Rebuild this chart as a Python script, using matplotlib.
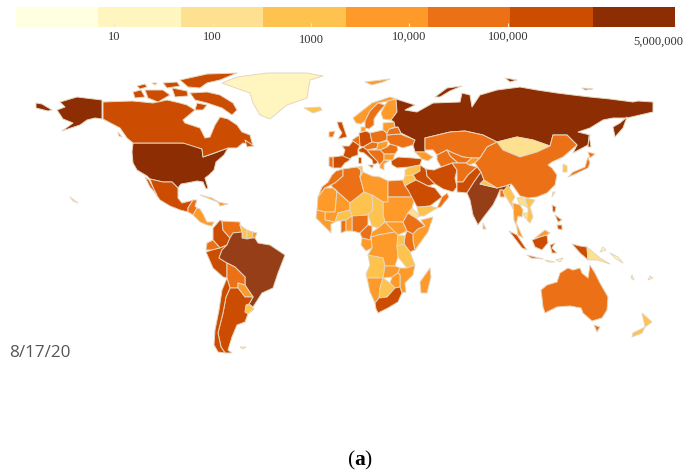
import numpy as np
import matplotlib
matplotlib.use("Agg")
import matplotlib.pyplot as plt
from matplotlib.colors import ListedColormap, BoundaryNorm
from matplotlib.transforms import ScaledTranslation

# Legend colours and scale
legend_colors = ["#ffffe2", "#fff5be", "#fee190", "#fec24f", "#fd9a29", "#ec7116", "#cc4c02", "#8c2d04"]
legend_ticks = [10, 100, 1000, 10000, 100000, 5000000]
legend_labels = ["10", "100", "1000", "10,000", "100,000", "5,000,000"]
bounds = 10 ** np.linspace(0, np.log10(5000000), 9)

cases = {
    "USA": 5400000, "Russia": 925000, "Brazil": 3340000, "India": 2650000,
    "Canada": 123000, "Mexico": 520000, "Peru": 530000, "Colombia": 470000,
    "Chile": 385000, "Argentina": 300000, "South Africa": 590000, "Iran": 345000,
    "Pakistan": 290000, "Saudi Arabia": 300000, "Turkey": 250000, "UK": 320000,
    "France": 250000, "Spain": 360000, "Italy": 254000, "Germany": 225000,
    "Iraq": 180000, "Indonesia": 140000, "Philippines": 165000, "Venezuela": 33000,
    "Ecuador": 100000, "Bolivia": 100000, "Paraguay": 11000, "Uruguay": 1500,
    "Guyana": 600, "Suriname": 1200, "French Guiana": 8000, "Guatemala": 65000,
    "Nicaragua": 12000, "Caribbean": 3000, "Greenland": 14, "Iceland": 1900,
    "Svalbard": 3000, "Morocco": 40000, "Algeria": 38000, "Tunisia": 1800,
    "Libya": 6000, "Egypt": 96000, "Sudan": 12000, "Chad": 950, "Niger": 1100,
    "Mali": 2600, "Mauritania": 6500, "West Coast": 9000, "Burkina": 1300,
    "Ghana": 42000, "Benin": 5000, "Nigeria": 49000, "Cameroon": 18000, "CAR": 4700,
    "South Sudan": 2500, "Ethiopia": 30000, "Eritrea": 300, "Somalia": 3200,
    "Kenya": 30000, "DRC": 9700, "Congo": 8000, "Tanzania": 500, "Uganda": 1400,
    "Angola": 1900, "Zambia": 10000, "Mozambique": 3000, "Zimbabwe": 5000,
    "Namibia": 4000, "Botswana": 1200, "Madagascar": 14000, "Portugal": 54000,
    "Ireland": 27000, "Norway": 10000, "Sweden": 84000, "Finland": 7700,
    "Denmark": 15000, "Benelux": 75000, "Baltics": 2500, "Belarus": 70000,
    "Poland": 58000, "Ukraine": 95000, "Romania": 70000, "Austria": 25000,
    "Hungary": 12000, "West Balkans": 32000, "Bulgaria": 14000, "Greece": 7000,
    "Kazakhstan": 100000, "Mongolia": 293, "China": 89000, "Turkmenistan": 30000,
    "Uzbekistan": 35000, "Kyrgyzstan": 14000, "Afghanistan": 37000, "Nepal": 2000,
    "Bangladesh": 95000, "Myanmar": 370, "Thailand": 3300, "Vietnam": 990, "Laos": 150,
    "Yemen": 1900, "Oman": 83000, "Syria": 1800, "Jordan": 1300, "Caucasus": 15000,
    "Japan": 56000, "South Korea": 1500, "Malaysia": 9200, "Cambodia": 270, "PNG": 300,
    "Australia": 23000, "New Zealand": 1300, "Sri Lanka": 2900, "Taiwan": 480,
    "Islands": 20,
}
faded = ["Brazil", "India"]

# Country outlines in map units
outlines = {
    "USA": [
        [(133,143),(183,143),(190,144),(202,149),(203,157),(212,154),(220,151),(228,148),(224,155),(216,162),(214,170),(209,175),(205,178),(208,188),(206,189),(203,182),(197,181),(187,183),(181,184),(178,188),(172,182),(163,182),(150,179),(147,176),(137,170),(133,163),(132,152)],
        [(60,102),(77,97),(102,100),(102,119),(95,118),(87,120),(80,125),(62,131),(73,123),(63,119),(57,110),(65,107)],
        [(36,103),(42,104),(52,110),(48,111),(36,108)],
    ],
    "Canada": [
        [(103,102),(132,101),(143,102),(153,103),(167,100),(180,103),(187,105),(195,110),(183,120),(185,123),(200,128),(205,138),(210,137),(215,125),(220,117),(228,119),(237,125),(242,132),(250,135),(253,146),(243,143),(237,148),(228,148),(217,152),(203,157),(202,149),(183,143),(133,143),(127,138),(120,128),(103,119)],
        [(197,103),(207,105),(203,110),(195,110)],
        [(190,93),(207,92),(220,95),(233,103),(237,110),(232,115),(222,108),(207,103),(195,100)],
        [(180,80),(207,74),(237,73),(220,80),(207,83),(200,88),(188,87)],
        [(145,90),(163,90),(170,95),(158,102),(148,98)],
        [(133,92),(141,90),(145,97),(135,98)],
        [(172,88),(187,91),(188,96),(175,97)],
        [(163,83),(177,82),(180,86),(167,88)],
        [(137,86),(145,84),(147,87),(140,89)],
        [(152,83),(157,83),(155,85)],
        [(245,140),(254,146),(247,147)],
        [(118,132),(122,137),(119,136)],
    ],
    "Greenland": [[(222,83),(237,77),(267,73),(307,73),(323,76),(310,80),(307,98),(287,105),(270,119),(260,115),(253,103),(250,93),(233,87)]],
    "Iceland": [[(304,108),(320,107),(322,110),(313,113)]],
    "Mexico": [
        [(150,179),(163,182),(172,182),(178,188),(178,198),(182,203),(190,201),(193,200),(188,208),(188,212),(180,210),(170,206),(160,200),(155,193)],
        [(145,177),(149,180),(157,195),(150,187)],
    ],
    "Guatemala": [[(188,208),(193,200),(197,200),(195,206),(197,208),(193,215),(188,212)]],
    "Nicaragua": [[(197,208),(200,209),(203,214),(207,222),(214,222),(212,226),(207,225),(200,222),(193,215)]],
    "Caribbean": [
        [(200,195),(212,198),(220,203),(210,199)],
        [(218,202),(228,204),(220,206)],
    ],
    "Colombia": [[(220,220),(222,221),(223,230),(230,238),(227,245),(220,248),(213,240),(213,228)]],
    "Venezuela": [[(222,221),(240,222),(240,225),(242,232),(233,233),(230,238),(223,230)]],
    "Guyana": [[(240,225),(247,230),(247,239),(242,238),(242,232)]],
    "Suriname": [[(247,230),(253,232),(252,238),(247,239)]],
    "French Guiana": [[(253,232),(257,233),(255,238),(252,238)]],
    "Ecuador": [[(207,243),(213,240),(220,248),(212,250),(206,250)]],
    "Peru": [[(206,252),(212,250),(220,248),(227,245),(222,250),(219,258),(227,263),(227,278),(223,277),(213,268)]],
    "Brazil": [[(227,245),(230,238),(233,233),(242,232),(242,238),(247,239),(252,238),(255,238),(258,243),(270,245),(285,255),(278,273),(273,288),(262,293),(253,307),(249,304),(253,297),(245,285),(245,277),(235,267),(227,263),(219,258),(222,250)]],
    "Bolivia": [[(227,263),(235,267),(245,277),(245,285),(238,283),(238,288),(230,288),(227,278)]],
    "Paraguay": [[(238,283),(245,285),(253,297),(245,297),(238,288)]],
    "Uruguay": [[(246,305),(249,304),(254,309),(248,314),(245,312)]],
    "Argentina": [[(230,288),(238,288),(245,297),(253,297),(249,304),(246,305),(245,312),(248,314),(245,322),(237,325),(232,337),(228,350),(232,353),(225,353),(221,347),(218,333),(223,313),(226,297)]],
    "Chile": [[(227,278),(230,288),(226,297),(223,313),(218,333),(221,347),(225,353),(218,352),(214,345),(215,330),(219,310),(222,290)]],
    "Morocco": [[(336,171),(343,169),(343,176),(335,183),(331,185),(325,188),(318,197),(322,187),(328,182),(332,175)]],
    "Algeria": [[(343,169),(357,167),(361,170),(360,177),(364,192),(350,203),(333,188),(331,185),(335,183),(343,176)]],
    "Mauritania": [[(318,197),(325,188),(333,188),(337,191),(335,212),(325,212),(317,210)]],
    "Mali": [[(333,188),(350,203),(350,210),(338,213),(335,222),(325,220),(325,212),(335,212),(337,191)]],
    "Niger": [[(350,203),(364,192),(372,195),(373,210),(368,215),(352,216),(350,210)]],
    "Libya": [[(360,177),(363,172),(372,176),(380,177),(388,181),(388,202),(383,202),(372,195),(364,192)]],
    "Tunisia": [[(357,167),(362,166),(363,172),(360,177),(361,170)]],
    "Egypt": [[(388,181),(403,180),(408,190),(415,197),(388,197)]],
    "Sudan": [[(388,197),(415,197),(412,208),(408,213),(403,222),(385,222),(383,215),(383,202),(388,202)]],
    "Chad": [[(372,195),(383,202),(383,215),(385,222),(378,228),(372,226),(368,215),(373,210)]],
    "Nigeria": [[(352,216),(368,215),(368,225),(360,233),(352,231)]],
    "Burkina": [[(338,213),(350,210),(352,216),(346,220),(337,221),(335,222)]],
    "Ghana": [[(341,221),(346,220),(346,231),(341,233)]],
    "Benin": [[(346,220),(352,216),(352,231),(346,231)]],
    "West Coast": [[(317,210),(325,212),(325,220),(335,222),(331,224),(331,233),(323,225),(316,218)]],
    "Cameroon": [[(368,225),(372,226),(372,232),(370,240),(362,238),(360,233)]],
    "CAR": [[(372,232),(378,228),(385,222),(395,232),(378,235),(371,237)]],
    "South Sudan": [[(385,222),(403,222),(407,231),(398,235),(395,232)]],
    "Ethiopia": [[(403,222),(408,213),(416,218),(425,226),(418,229),(413,234),(407,231)]],
    "Eritrea": [[(412,208),(420,216),(416,218),(408,213)]],
    "Somalia": [[(418,229),(425,226),(421,220),(433,217),(428,232),(415,250),(413,241),(413,234)]],
    "Kenya": [[(407,231),(413,234),(413,241),(415,250),(410,252),(404,244),(405,236)]],
    "DRC": [[(371,237),(378,235),(395,232),(398,235),(397,246),(398,257),(395,266),(385,266),(383,258),(368,255),(372,248)]],
    "Congo": [[(362,238),(370,240),(371,237),(372,248),(366,251),(361,245)]],
    "Uganda": [[(398,235),(405,236),(404,244),(397,246)]],
    "Tanzania": [[(397,246),(404,244),(410,252),(415,265),(407,268),(398,257)]],
    "Angola": [[(368,255),(383,258),(385,266),(383,278),(367,278),(366,274),(370,265)]],
    "Zambia": [[(385,266),(395,266),(400,268),(398,273),(392,277),(383,278)]],
    "Mozambique": [[(407,268),(415,265),(413,275),(405,283),(406,292),(402,293),(400,287),(400,275),(398,273),(400,268)]],
    "Zimbabwe": [[(392,277),(398,273),(400,275),(400,287),(395,288),(390,283)]],
    "Namibia": [[(367,278),(383,278),(380,288),(379,298),(375,303),(370,292)]],
    "Botswana": [[(383,278),(390,283),(395,288),(387,297),(379,298),(380,288)]],
    "South Africa": [[(375,303),(379,298),(387,297),(395,288),(400,287),(402,293),(398,302),(388,308),(378,313),(376,309)]],
    "Madagascar": [[(430,268),(431,277),(427,293),(421,293),(420,282)]],
    "Spain": [[(333,157),(348,155),(350,160),(345,163),(341,168),(333,168)]],
    "Portugal": [[(329,157),(333,157),(333,168),(329,166)]],
    "France": [[(342,146),(349,146),(353,141),(360,145),(358,150),(358,155),(352,157),(350,159),(343,156),(345,150)]],
    "UK": [[(337,122),(342,122),(344,128),(347,137),(338,139),(342,133),(339,128)]],
    "Ireland": [[(329,132),(335,131),(333,137),(329,137)]],
    "Benelux": [[(352,140),(358,136),(360,136),(360,146),(353,141)]],
    "Germany": [[(359,133),(366,131),(370,133),(372,142),(363,147),(360,146)]],
    "Denmark": [[(361,127),(366,127),(365,131),(361,132)]],
    "Poland": [[(370,133),(383,130),(387,133),(387,140),(378,143),(372,142)]],
    "Austria": [[(363,147),(372,142),(378,143),(377,148),(367,150)]],
    "Hungary": [[(378,143),(388,141),(387,147),(380,150),(375,150),(377,148)]],
    "Romania": [[(387,147),(390,144),(397,146),(398,150),(395,154),(384,154),(380,150)]],
    "Ukraine": [[(387,135),(400,134),(415,140),(413,145),(403,148),(397,146),(390,144),(388,141),(387,140)]],
    "Belarus": [[(387,133),(389,129),(398,127),(401,133),(400,134),(387,135)]],
    "Baltics": [[(383,123),(394,122),(395,127),(389,129),(387,133),(383,130)]],
    "West Balkans": [[(367,150),(375,150),(380,150),(384,154),(384,160),(380,165),(374,158),(370,154)]],
    "Bulgaria": [[(384,154),(395,154),(393,160),(384,160)]],
    "Greece": [[(380,165),(384,160),(389,161),(384,164),(384,170),(380,168)]],
    "Italy": [
        [(358,150),(363,147),(367,150),(370,154),(378,162),(376,164),(373,164),(372,160),(364,153),(360,152)],
        [(368,165),(374,165),(372,168)],
        [(358,157),(361,157),(361,163),(358,163)],
    ],
    "Norway": [[(353,118),(372,103),(390,97),(396,99),(388,101),(378,103),(370,111),(365,121),(361,124),(356,123)]],
    "Sweden": [[(365,121),(370,111),(378,103),(385,105),(378,113),(374,119),(374,125),(369,129),(365,128)]],
    "Finland": [[(385,105),(388,101),(396,99),(397,112),(391,120),(383,119),(381,113)]],
    "Russia": [
        [(396,99),(415,105),(405,110),(417,112),(433,103),(460,102),(462,93),(470,95),(472,107),(480,95),(497,90),(520,87),(537,90),(557,93),(573,95),(590,97),(610,99),(633,102),(638,101),(653,102),(653,112),(640,115),(627,118),(613,118),(603,120),(590,128),(578,132),(590,135),(588,145),(573,153),(577,145),(567,135),(553,135),(550,146),(533,140),(517,137),(497,142),(483,135),(465,131),(450,132),(425,138),(425,152),(415,152),(413,145),(415,140),(401,133),(398,127),(395,127),(394,122),(391,120),(397,112)],
        [(627,117),(620,123),(613,127),(615,137),(623,128)],
        [(435,97),(447,88),(462,86),(450,91),(440,97)],
        [(505,78),(517,80),(510,82)],
        [(582,88),(593,89),(585,90)],
        [(589,135),(591,147),(588,147)],
    ],
    "Svalbard": [[(365,82),(390,79),(383,82),(372,85)]],
    "Caucasus": [[(415,152),(425,152),(433,157),(428,161),(422,159),(418,155)]],
    "Turkey": [[(391,161),(398,157),(413,158),(422,159),(420,165),(410,167),(397,168),(392,165)]],
    "Syria": [[(410,167),(420,165),(420,171),(413,175),(405,176),(405,170)]],
    "Iraq": [[(420,165),(426,169),(427,176),(435,184),(428,186),(416,180),(413,175),(420,171)]],
    "Jordan": [[(405,176),(413,175),(416,180),(410,183),(405,186),(403,181)]],
    "Saudi Arabia": [[(405,186),(410,183),(416,180),(428,186),(435,188),(442,197),(430,206),(420,207),(417,207),(408,190)]],
    "Yemen": [[(417,207),(420,207),(430,206),(437,208),(424,216),(419,216)]],
    "Oman": [[(437,208),(442,197),(447,193),(449,197),(441,207)]],
    "Iran": [[(426,169),(434,170),(441,167),(452,163),(457,170),(455,178),(457,187),(453,192),(443,189),(435,184),(427,176)]],
    "Kazakhstan": [[(425,138),(450,132),(465,131),(483,135),(497,142),(487,147),(480,158),(472,158),(463,157),(453,153),(447,150),(437,155),(433,150),(425,150)]],
    "Uzbekistan": [[(447,150),(453,153),(463,157),(472,158),(466,163),(458,163),(450,156)]],
    "Turkmenistan": [[(437,155),(447,150),(450,156),(458,163),(452,163),(441,167),(437,160)]],
    "Kyrgyzstan": [[(466,163),(472,158),(480,158),(475,163),(469,165)]],
    "Afghanistan": [[(452,163),(458,163),(466,163),(469,165),(477,167),(468,175),(463,182),(457,182),(457,170)]],
    "Pakistan": [[(457,182),(463,182),(468,175),(477,167),(481,172),(474,182),(467,193),(457,192),(457,187)]],
    "India": [[(474,182),(481,172),(484,180),(480,184),(497,188),(505,186),(511,184),(507,193),(503,190),(500,190),(497,197),(493,205),(483,218),(478,225),(473,215),(470,200),(467,193)]],
    "Nepal": [[(484,180),(497,188),(480,184)]],
    "Bangladesh": [[(500,190),(503,190),(505,197),(500,197)]],
    "Mongolia": [[(497,142),(517,137),(533,140),(550,146),(537,152),(520,157),(503,150)]],
    "China": [[(487,147),(497,142),(503,150),(520,157),(537,152),(550,146),(553,135),(567,135),(577,145),(563,157),(552,162),(548,165),(552,168),(557,175),(555,185),(547,193),(537,197),(528,198),(520,196),(513,186),(511,184),(505,186),(497,188),(484,180),(481,172),(475,163),(480,158)]],
    "Myanmar": [[(503,192),(508,185),(515,197),(512,202),(513,208),(517,215),(511,205)]],
    "Thailand": [[(513,203),(520,205),(523,210),(522,217),(518,216),(516,225),(514,220)]],
    "Laos": [[(517,198),(523,197),(528,208),(523,205),(520,205)]],
    "Cambodia": [[(523,213),(528,213),(529,220),(525,218)]],
    "Vietnam": [[(525,198),(535,200),(530,207),(533,217),(530,223),(527,220),(528,213),(528,208)]],
    "Malaysia": [
        [(516,222),(523,238),(518,235)],
        [(535,238),(545,230),(550,233),(547,235),(540,237)],
    ],
    "Philippines": [
        [(552,205),(556,207),(555,212),(553,212)],
        [(557,225),(562,225),(562,230),(558,229)],
        [(555,215),(562,220),(558,222)],
    ],
    "Indonesia": [
        [(509,231),(517,235),(527,250),(522,248)],
        [(527,255),(543,259),(531,258)],
        [(532,240),(540,237),(547,235),(548,243),(542,250),(535,247)],
        [(550,245),(555,243),(552,248),(557,253),(552,253)],
        [(572,244),(580,246),(587,247),(588,260),(580,253)],
    ],
    "PNG": [[(587,247),(600,258),(610,264),(597,260),(588,260)]],
    "Japan": [
        [(568,177),(573,172),(585,167),(588,157),(590,163),(588,168),(573,175)],
        [(588,152),(595,154),(590,158)],
    ],
    "South Korea": [[(563,164),(567,166),(567,172),(563,172)]],
    "Australia": [
        [(541,290),(547,285),(557,282),(560,273),(568,268),(573,270),(580,268),(582,273),(588,278),(590,265),(595,273),(600,283),(608,297),(607,310),(602,318),(592,321),(583,313),(581,308),(570,306),(557,307),(545,313),(543,307),(542,298)],
        [(594,325),(600,327),(597,332)],
    ],
    "New Zealand": [
        [(642,313),(652,322),(645,327)],
        [(645,327),(642,333),(632,337),(633,333)],
    ],
    "Sri Lanka": [[(483,223),(486,229),(483,229)]],
    "Taiwan": [[(553,192),(555,192),(552,197)]],
    "Islands": [
        [(610,253),(618,257),(623,263),(616,259)],
        [(603,247),(606,250),(600,252)],
        [(70,197),(78,203),(73,201)],
        [(240,347),(246,347),(243,349)],
        [(632,275),(634,280),(631,278)],
        [(650,276),(653,278),(648,280)],
        [(545,260),(555,262),(548,262)],
        [(556,260),(563,258),(560,262)],
    ],
}

cmap = ListedColormap(legend_colors)
norm = BoundaryNorm(bounds, cmap.N)

plt.rcParams["mathtext.fontset"] = "custom"
plt.rcParams["mathtext.bf"] = "Liberation Serif:bold"

fig = plt.figure(figsize=(6.92, 4.76), dpi=100)

# Map
ax = fig.add_axes([0, 0, 1, 1])
ax.set_xlim(0, 692)
ax.set_ylim(476, 0)
ax.axis("off")
for name, parts in outlines.items():
    color = cmap(norm(cases[name]))
    for part in parts:
        pts = np.array(part)
        ax.fill(pts[:, 0], pts[:, 1], facecolor=color, edgecolor="#e6d6be", linewidth=0.7,
                alpha=0.92 if name in faded else 1, joinstyle="round")

# Legend bar on a log scale
leg = fig.add_axes([16 / 692, 1 - 27 / 476, 659 / 692, 20 / 476])
leg.pcolormesh(bounds, [0, 1], np.sqrt(bounds[:-1] * bounds[1:]).reshape(1, -1), cmap=cmap, norm=norm)
leg.set_xscale("log")
leg.set_xlim(bounds[0], bounds[-1])
leg.set_yticks([])
leg.set_xticks(legend_ticks)
leg.set_xticklabels(legend_labels, family="Liberation Serif", fontsize=9, color="#333333")
leg.minorticks_off()
leg.tick_params(axis="x", direction="in", length=3, width=0.8, color="#f3e9d8", pad=3)
for s in leg.spines.values():
    s.set_visible(False)
xt = leg.xaxis.get_major_ticks()
xt[2].set_pad(5)
xt[5].set_pad(6)
lab = xt[5].label1
lab.set_transform(lab.get_transform() + ScaledTranslation(-17 / 100, 0, fig.dpi_scale_trans))

ax.text(9, 353, "8/17/20", fontsize=12.3, color="#555555", family="Open Sans", va="center")
ax.text(360, 460, r"($\mathbf{a}$)", fontsize=15.5, family="Liberation Serif", ha="center", va="center", color="black")

fig.savefig("out.png", dpi=100)
